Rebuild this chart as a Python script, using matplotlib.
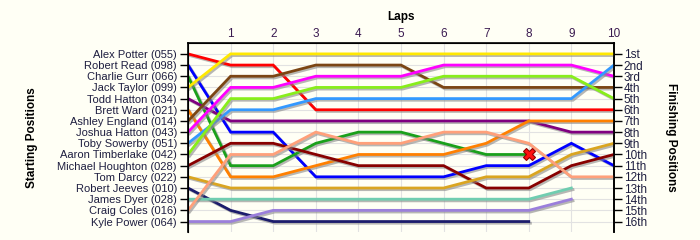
import numpy as np
import matplotlib
matplotlib.use('Agg')
import matplotlib.pyplot as plt
import matplotlib.patheffects as pe

plt.rcParams['font.family'] = ['Liberation Sans', 'DejaVu Sans']

laps = list(range(0, 11))
drivers = ['Alex Potter (055)', 'Robert Read (098)', 'Charlie Gurr (066)', 'Jack Taylor (099)',
           'Todd Hatton (034)', 'Brett Ward (021)', 'Ashley England (014)', 'Joshua Hatton (043)',
           'Toby Sowerby (051)', 'Aaron Timberlake (042)', 'Michael Houghton (028)', 'Tom Darcy (022)',
           'Robert Jeeves (010)', 'James Dyer (028)', 'Craig Coles (016)', 'Kyle Power (064)']
finish_labels = ['1st', '2nd', '3rd', '4th', '5th', '6th', '7th', '8th', '9th', '10th',
                 '11th', '12th', '13th', '14th', '15th', '16th']
nan = np.nan
# position of each driver after each lap (lap 0 = grid)
alex_potter = [1, 2, 2, 6, 6, 6, 6, 6, 6, 6, 6]
robert_read = [2, 8, 8, 12, 12, 12, 12, 11, 11, 9, 11]
charlie_gurr = [3, 11, 11, 9, 8, 8, 9, 10, 10, nan, nan]
jack_taylor = [4, 1, 1, 1, 1, 1, 1, 1, 1, 1, 1]
todd_hatton = [5, 7, 7, 7, 7, 7, 7, 7, 7, 8, 8]
brett_ward = [6, 12, 12, 11, 10, 10, 10, 9, 7, 7, 7]
ashley_england = [7, 3, 3, 2, 2, 2, 4, 4, 4, 4, 4]
joshua_hatton = [8, 4, 4, 3, 3, 3, 2, 2, 2, 2, 3]
toby_sowerby = [9, 6, 6, 5, 5, 5, 5, 5, 5, 5, 2]
aaron_timberlake = [10, 5, 5, 4, 4, 4, 3, 3, 3, 3, 5]
michael_houghton = [11, 9, 9, 10, 11, 11, 11, 13, 13, 11, 10]
tom_darcy = [12, 13, 13, 13, 13, 13, 13, 12, 12, 10, 9]
robert_jeeves = [13, 15, 16, 16, 16, 16, 16, 16, 16, nan, nan]
james_dyer = [14, 14, 14, 14, 14, 14, 14, 14, 14, 13, nan]
craig_coles = [15, 10, 10, 8, 9, 9, 8, 8, 9, 12, 12]
kyle_power = [16, 16, 15, 15, 15, 15, 15, 15, 15, 14, nan]
retired_lap = 8
retired_pos = 10

positions = [alex_potter, robert_read, charlie_gurr, jack_taylor, todd_hatton, brett_ward,
             ashley_england, joshua_hatton, toby_sowerby, aaron_timberlake, michael_houghton,
             tom_darcy, robert_jeeves, james_dyer, craig_coles, kyle_power]
colors = ['#FF0000', '#0000FF', '#1AA01A', '#FFE800', '#800080', '#FF8000', '#7B4513', '#FF00FF',
          '#3399FF', '#88EE1A', '#880000', '#DAA520', '#1C1C6C', '#70CDB0', '#FFA07A', '#9B7FDB']

bg = '#FFFFF5'
fig = plt.figure(figsize=(7, 2.4), dpi=100, facecolor=bg)
ax = fig.add_axes([0.2686, 0.035, 0.6085, 0.787])
ax.set_facecolor(bg)

shadow = [pe.SimpleLineShadow(offset=(1.2, -1.2), shadow_color='#888888', alpha=0.6), pe.Normal()]
for pos, c in zip(positions, colors):
    ax.plot(laps, pos, color=c, lw=2.0, solid_joinstyle='miter', path_effects=shadow, zorder=3)
ax.plot([retired_lap], [retired_pos], marker='X', color='#FF1010', markeredgecolor='#900000',
        markeredgewidth=0.8, markersize=9, zorder=5)

ax.set_xlim(0, 10)
ax.set_ylim(16.9, 0)
ax.set_xticks(range(1, 10), minor=True)
ax.set_xticks(range(1, 11))
ax.set_yticks(range(1, 17))
ax.set_yticklabels(drivers)
ax.grid(True, which='both', color='#E2E2E2', lw=0.8, zorder=0)
ax.xaxis.tick_top()
ax.tick_params(axis='x', which='both', length=0, pad=2, labelsize=8.5, colors='#3A1A50')
ax.tick_params(axis='y', length=6, width=1, pad=2, labelsize=8, labelcolor='#1E1E40')
for s in ['left', 'right', 'top']:
    ax.spines[s].set_linewidth(1.2)
ax.spines['bottom'].set_visible(False)
ax.set_title('Laps', fontsize=8.5, fontweight='bold', pad=16)
ax.set_ylabel('Starting Positions', fontsize=8.5, fontweight='bold', labelpad=14)

ax2 = ax.twinx()
ax2.set_ylim(16.9, 0)
ax2.set_yticks(range(1, 17))
ax2.set_yticklabels(finish_labels)
ax2.tick_params(axis='y', length=6, width=1, pad=1, labelsize=8.5, labelcolor='#1E1E40')
ax2.spines['bottom'].set_visible(False)
ax2.spines['right'].set_linewidth(1.2)
ax2.set_ylabel('Finishing Positions', fontsize=8.5, fontweight='bold', rotation=270, labelpad=22)

fig.savefig('out.png', dpi=100, facecolor=bg)
